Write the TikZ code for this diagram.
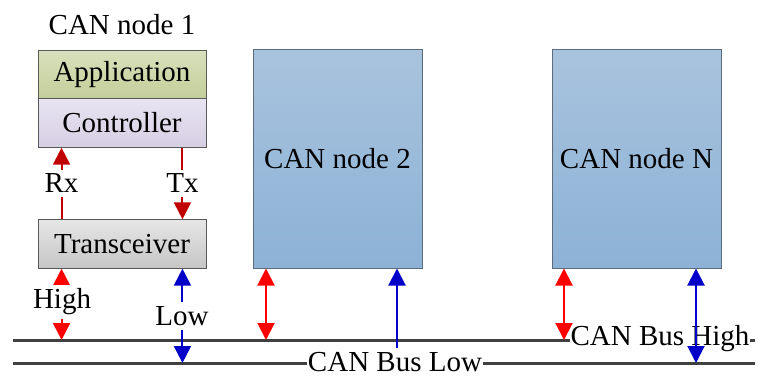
\documentclass[tikz,border=0pt]{standalone}
\usepackage{fontspec}
\setmainfont{Liberation Serif}
\usetikzlibrary{arrows.meta,calc}
\definecolor{busgray}{HTML}{404040}
\definecolor{darkred}{HTML}{C00000}
\definecolor{brightred}{HTML}{FF0000}
\definecolor{deepblue}{HTML}{0000C8}
\definecolor{appTop}{HTML}{D8E0BC}
\definecolor{appBot}{HTML}{C3CF9A}
\definecolor{ctlTop}{HTML}{E8E4F1}
\definecolor{ctlBot}{HTML}{D6CFE4}
\definecolor{trTop}{HTML}{E6E6E6}
\definecolor{trBot}{HTML}{C6C6C6}
\definecolor{nodeTop}{HTML}{A8C3DD}
\definecolor{nodeBot}{HTML}{8DB2D6}
\definecolor{nodeEdge}{HTML}{5C6C7C}
\tikzset{
  txt/.style={font=\rmfamily\fontsize{29}{31}\selectfont, inner sep=0pt},
  layer/.style={txt, draw=black!65, line width=0.9pt, minimum width=168pt, minimum height=48.5pt},
  appbox/.style={layer, top color=appTop, bottom color=appBot},
  ctlbox/.style={layer, top color=ctlTop, bottom color=ctlBot},
  trbox/.style={layer, top color=trTop, bottom color=trBot},
  canbox/.style={txt, draw=nodeEdge, line width=1pt, minimum width=169pt, minimum height=218pt,
    top color=nodeTop, bottom color=nodeBot},
  tip/.style={-{Triangle[width=17pt,length=17pt]}},
  dtip/.style={{Triangle[width=17pt,length=17pt]}-{Triangle[width=17pt,length=17pt]}},
  sigred/.style={line width=2pt, draw=darkred, fill=darkred},
  hired/.style={line width=2pt, draw=brightred, fill=brightred},
  loblue/.style={line width=2pt, draw=deepblue, fill=deepblue},
  bus/.style={line width=3pt, draw=busgray},
  tag/.style={txt, fill=white, inner xsep=1pt, inner ysep=4pt},
}
\begin{document}
\begin{tikzpicture}[x=1pt, y=-1pt]
\useasboundingbox (0,0) rectangle (758,377);

% CAN node 1: protocol stack
\node[txt] (title1) at (122,25) {CAN node 1};
\node[appbox] (app) at (122,74.5) {Application};
\node[ctlbox] (ctl) at (122,123) {Controller};
\node[trbox] (trx) at (122,244) {Transceiver};

% CAN node 2 and CAN node N
\node[canbox] (n2) at (337.5,159) {CAN node 2};
\node[canbox] (nN) at (636.5,159) {CAN node N};

% bus wires
\coordinate (hiL) at (13,340);
\coordinate (hiR) at (755,340);
\coordinate (loL) at (13,363);
\coordinate (loR) at (755,363);
\draw[bus] (hiL) -- (hiR);
\draw[bus] (loL) -- (loR);

% Rx / Tx between controller and transceiver
\coordinate (rxB) at ([xshift=24pt]trx.north west);
\coordinate (rxT) at ([xshift=24pt]ctl.south west);
\coordinate (txT) at ([xshift=-24pt]ctl.south east);
\coordinate (txB) at ([xshift=-24pt]trx.north east);
\draw[sigred, tip] (rxB) -- (rxT);
\draw[sigred, tip] (txT) -- (txB);
\node[tag] (rx) at ($(rxB)!0.5!(rxT)$) {Rx};
\node[tag] (tx) at ($(txB)!0.5!(txT)$) {Tx};

% node 1 bus taps
\coordinate (hT) at ([xshift=24pt]trx.south west);
\coordinate (lT) at ([xshift=-24pt]trx.south east);
\draw[hired, dtip] (hT) -- (hT |- hiL);
\draw[loblue, dtip] (lT) -- (lT |- loL);
\node[tag] (high) at (62,302) {High};
\node[tag] (low) at (182,316) {Low};

% node 2 bus taps
\coordinate (n2h) at (266,340);
\coordinate (n2l) at (397,363);
\draw[hired, dtip] (n2.south west -| n2h) -- (n2h);
\draw[loblue, tip] (n2l) -- (n2.south west -| n2l);

% bus labels
\node[tag] (lowlbl) at (395,362) {CAN Bus Low};
\node[tag] (highlbl) at (660,339) {CAN Bus High};

% node N bus taps
\coordinate (nNh) at (564,340);
\coordinate (nNl) at (696,363);
\draw[hired, dtip] (nN.south west -| nNh) -- (nNh);
\draw[loblue, dtip] (nN.south west -| nNl) -- (nNl);
\end{tikzpicture}
\end{document}
